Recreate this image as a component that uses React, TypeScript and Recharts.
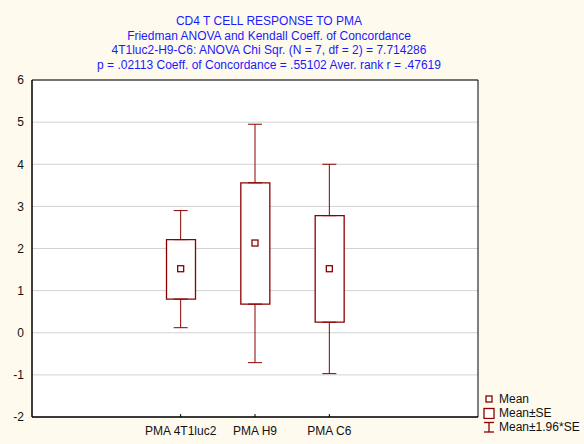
import React from "react";
import {
  ComposedChart,
  Bar,
  Scatter,
  ErrorBar,
  XAxis,
  YAxis,
  CartesianGrid,
  ReferenceArea,
} from "recharts";

const categories = ["PMA 4T1luc2", "PMA H9", "PMA C6"];
const positions = [2, 3, 4];
const means = [1.52, 2.13, 1.52];
const seLow = [0.8, 0.68, 0.25];
const seHigh = [2.21, 3.56, 2.78];
const ciLow = [0.12, -0.71, -0.97];
const ciHigh = [2.9, 4.95, 4.0];
const yTicks = [-2, -1, 0, 1, 2, 3, 4, 5, 6];

const titleLines = [
  "CD4 T CELL RESPONSE TO PMA",
  "Friedman ANOVA and Kendall Coeff. of Concordance",
  "4T1luc2-H9-C6: ANOVA Chi Sqr. (N = 7, df = 2) = 7.714286",
  "p = .02113 Coeff. of Concordance = .55102 Aver. rank r = .47619",
];

const RED = "#8b0000";
const FONT = "'Liberation Sans', Arial, sans-serif";

// whiskers are split at the box edges so they never cross the box
const data = categories.map((name, i) => ({
  name,
  x: positions[i],
  mean: means[i],
  box: [seLow[i], seHigh[i]],
  top: seHigh[i],
  bottom: seLow[i],
  topErr: [0, ciHigh[i] - seHigh[i]],
  bottomErr: [seLow[i] - ciLow[i], 0],
}));

const MeanMarker = (props: any) => {
  const { cx, cy } = props;
  return <rect x={cx - 3} y={cy - 3} width={6} height={6} fill="#fff" stroke={RED} strokeWidth={1.3} />;
};

const Hidden = () => <g />;

export default function App() {
  return (
    <div
      style={{
        position: "absolute",
        left: 0,
        top: 0,
        width: 584,
        height: 444,
        background: "#fffaee",
        fontFamily: FONT,
      }}
    >
      <div style={{ position: "absolute", left: 0, top: 14, width: 538, textAlign: "center" }}>
        {titleLines.map((t) => (
          <div key={t} style={{ color: "#1a1aff", fontSize: 12, lineHeight: "14.5px" }}>
            {t}
          </div>
        ))}
      </div>
      <ComposedChart
        width={584}
        height={444}
        data={data}
        margin={{ top: 80, right: 106, bottom: 0, left: 0 }}
        style={{ position: "absolute", left: 0, top: 0 }}
      >
        <CartesianGrid fill="#ffffff" stroke="#d2d2d2" vertical={false} />
        <XAxis
          dataKey="x"
          type="number"
          domain={[0, 6]}
          ticks={positions}
          tickFormatter={(v: number) => categories[positions.indexOf(v)]}
          height={27}
          tickSize={-3}
          tickMargin={12}
          axisLine={{ stroke: "#000" }}
          tickLine={{ stroke: "#000" }}
          tick={{ fill: "#111", fontSize: 12, fontFamily: FONT }}
          interval={0}
        />
        <YAxis
          type="number"
          domain={[-2, 6]}
          ticks={yTicks}
          width={32}
          tickLine={false}
          tickMargin={2}
          axisLine={{ stroke: "#000" }}
          tick={{ fill: "#111", fontSize: 12, fontFamily: FONT }}
          interval={0}
        />
        <Scatter dataKey="top" shape={Hidden} isAnimationActive={false}>
          <ErrorBar dataKey="topErr" direction="y" width={7} stroke={RED} strokeWidth={1} />
        </Scatter>
        <Scatter dataKey="bottom" shape={Hidden} isAnimationActive={false}>
          <ErrorBar dataKey="bottomErr" direction="y" width={7} stroke={RED} strokeWidth={1} />
        </Scatter>
        <Bar dataKey="box" barSize={29} fill="#fff" stroke={RED} strokeWidth={1.3} isAnimationActive={false} />
        <Scatter dataKey="mean" shape={MeanMarker} isAnimationActive={false} />
        <ReferenceArea x1={0} x2={6} y1={-2} y2={6} fill="none" stroke="#000" strokeWidth={1} />
      </ComposedChart>
      <div style={{ position: "absolute", left: 483, top: 392, fontSize: 12, color: "#111", lineHeight: "14px" }}>
        <div style={{ display: "flex", alignItems: "center" }}>
          <svg width={12} height={12}>
            <rect x={3} y={3} width={6} height={6} fill="#fff" stroke={RED} strokeWidth={1.3} />
          </svg>
          <span style={{ marginLeft: 4 }}>Mean</span>
        </div>
        <div style={{ display: "flex", alignItems: "center" }}>
          <svg width={12} height={12}>
            <rect x={1} y={1.5} width={10} height={10} fill="#fff" stroke={RED} strokeWidth={1.3} />
          </svg>
          <span style={{ marginLeft: 4 }}>Mean±SE</span>
        </div>
        <div style={{ display: "flex", alignItems: "center" }}>
          <svg width={12} height={12}>
            <line x1={1} y1={1.5} x2={11} y2={1.5} stroke={RED} strokeWidth={1.3} />
            <line x1={6} y1={1.5} x2={6} y2={11} stroke={RED} strokeWidth={1.3} />
            <line x1={1} y1={11} x2={11} y2={11} stroke={RED} strokeWidth={1.3} />
          </svg>
          <span style={{ marginLeft: 4 }}>Mean±1.96*SE</span>
        </div>
      </div>
    </div>
  );
}
